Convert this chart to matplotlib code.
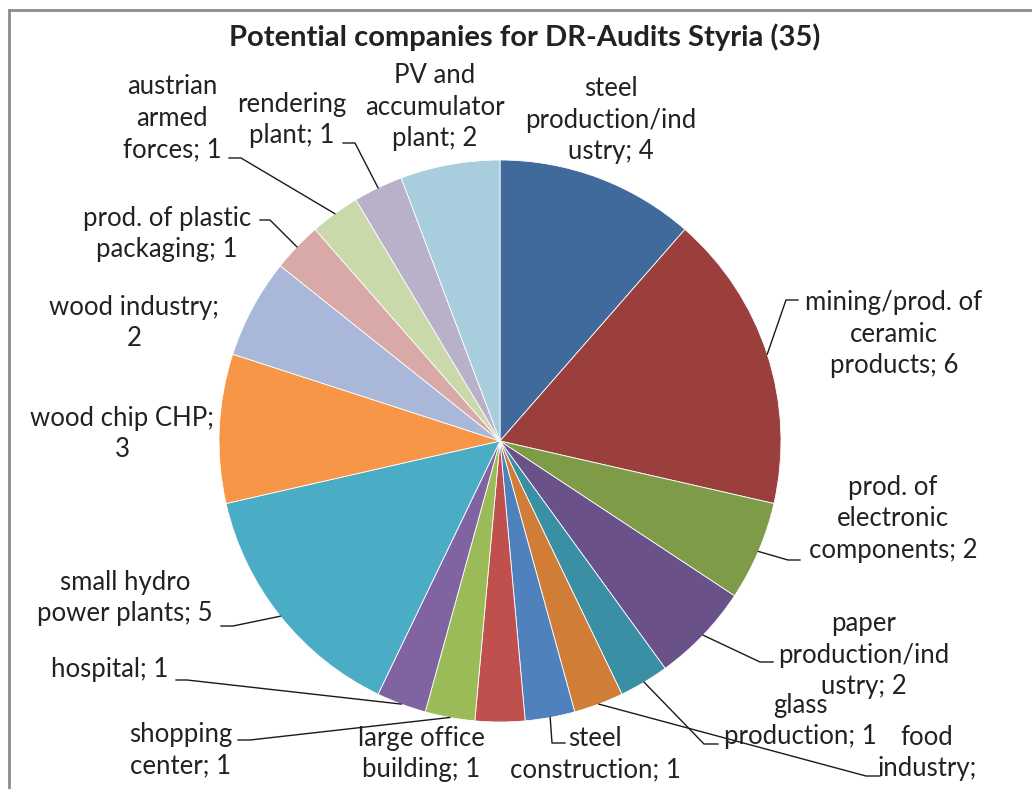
import math
import matplotlib
matplotlib.use('Agg')
import matplotlib.pyplot as plt

# data
names = ['steel\nproduction/ind\nustry', 'mining/prod. of\nceramic\nproducts',
         'prod. of\nelectronic\ncomponents', 'paper\nproduction/ind\nustry',
         'glass\nproduction', 'food\nindustry', 'steel\nconstruction',
         'large office\nbuilding', 'shopping\ncenter', 'hospital',
         'small hydro\npower plants', 'wood chip CHP', 'wood industry',
         'prod. of plastic\npackaging', 'austrian\narmed\nforces', 'rendering\nplant',
         'PV and\naccumulator\nplant']
counts = [4, 6, 2, 2, 1, 1, 1, 1, 1, 1, 5, 3, 2, 1, 1, 1, 2]
colors = ['#3F6A9B', '#9B3F3D', '#7E9B48', '#6A5189', '#3A8FA5', '#D07D37',
          '#4F81BD', '#C0504D', '#9BBB59', '#8064A2', '#4BACC6', '#F79646',
          '#A9B8D9', '#D9A9A8', '#C9D9A9', '#B9B0CA', '#A8CEDD']

W, H = 1032, 789

# label layout in pixel coords (top-down): block centre, optional elbow + tick end
label_pos = [(611, 120), (894, 334), (893, 519), (864, 655), (800, 721),
             (927, 753), (595, 754), (421, 754), (181, 750), (110, 670),
             (125, 598), (122, 434), (134, 323), (167, 234), (172, 118),
             (292, 120), (435, 107)]
leaders = {1: ((786, 300), 798), 2: ((788, 560), 800), 3: ((760, 662), 773),
           4: ((704, 744), 718), 5: ((866, 776), 880), 6: ((552, 743), 565),
           8: ((250, 740), 238), 9: ((187, 680), 176), 10: ((233, 626), 221),
           13: ((270, 220), 260), 14: ((241, 158), 229), 15: ((355, 143), 343)}

fig = plt.figure(figsize=(W / 100, H / 100), dpi=100)
ax = fig.add_axes([0, 0, 1, 1])

cx, cy, r = 500, H - 441, 281
wedges, _ = ax.pie(counts, colors=colors, startangle=90, counterclock=False,
                   center=(cx, cy), radius=r,
                   wedgeprops=dict(edgecolor='white', linewidth=0.6))
ax.set_xlim(0, W)
ax.set_ylim(0, H)
ax.set_aspect('equal')
ax.axis('off')

font = dict(family=['Lato', 'DejaVu Sans'], color='#222222')

for i, (w, name, n) in enumerate(zip(wedges, names, counts)):
    if i == 5:
        # value line of this label is cut off by the chart border
        txt = name + ';'
    elif i in (11, 12):
        txt = name + ';\n' + str(n)
    else:
        txt = name + '; ' + str(n)
    x, y = label_pos[i]
    ax.text(x, H - y, txt, ha='center', va='center', fontsize=18.5,
            linespacing=1.33, **font)
    if i in leaders:
        (ex, ey), tx = leaders[i]
        a = math.radians((w.theta1 + w.theta2) / 2)
        px, py = cx + r * math.cos(a), cy + r * math.sin(a)
        ax.plot([px, ex, tx], [py, H - ey, H - ey], color='#1a1a1a', lw=1.0)

fig.text(525 / W, 1 - 37 / H, 'Potential companies for DR-Audits Styria (35)',
         ha='center', va='center', fontsize=21, fontweight='bold', **font)

# chart area frame (cropped on right and bottom)
ax.plot([9, 9], [0, H - 10], color='#8c8c8c', lw=2, clip_on=False)
ax.plot([9, W], [H - 10, H - 10], color='#8c8c8c', lw=2, clip_on=False)

fig.savefig('out.png', dpi=100)
